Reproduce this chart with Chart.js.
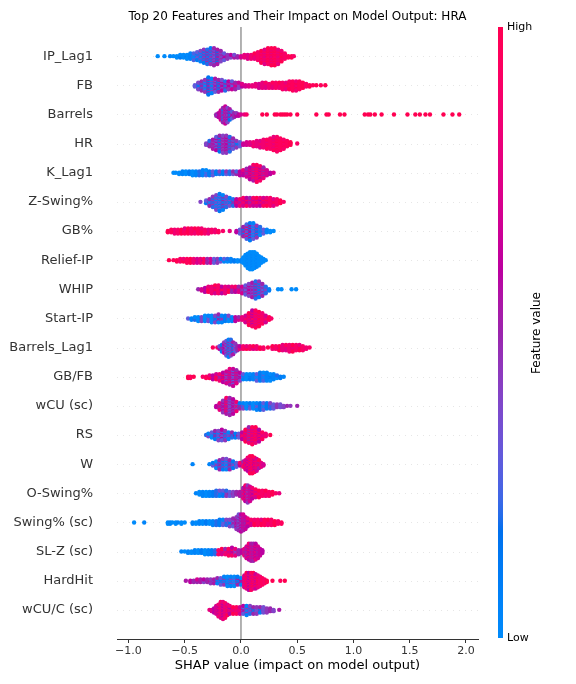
<!DOCTYPE html>
<html>
<head>
<meta charset="utf-8">
<script src="https://cdn.jsdelivr.net/npm/chart.js@4.4.0/dist/chart.umd.min.js"></script>
<style>
  html, body { margin: 0; padding: 0; background: #fff; }
  #wrap { width: 576px; height: 684px; position: relative; }
</style>
</head>
<body>
<div id="wrap"><canvas id="chart"></canvas></div>
<script>
// feature names, top to bottom
const features = ["IP_Lag1", "FB", "Barrels", "HR", "K_Lag1", "Z-Swing%", "GB%", "Relief-IP", "WHIP",
  "Start-IP", "Barrels_Lag1", "GB/FB", "wCU (sc)", "RS", "W", "O-Swing%", "Swing% (sc)", "SL-Z (sc)",
  "HardHit", "wCU/C (sc)"];
const xTicks = [-1, -0.5, 0, 0.5, 1, 1.5, 2];

// each entry: [shap value, number of samples there, feature value(s) 0=low 1=high]
const ipLag1 = [[-0.74,1,0],[-0.68,1,0],[-0.63,1,0.05],[-0.60,1,0],[-0.57,2,0],[-0.54,3,0,0.1],[-0.51,3,0],
  [-0.48,4,0,0.15],[-0.45,5,0.05],[-0.42,6,0,0.25],[-0.39,7,0.1,0.3],[-0.36,9,0.05,0.4],[-0.33,11,0.1,0.45],
  [-0.30,12,0.2,0.5],[-0.27,13,0.1,0.45],[-0.24,14,0.3,0.5],[-0.21,12,0.15,0.55],[-0.18,9,0.4,0.5],
  [-0.15,6,0.3,0.6],[-0.12,4,0.45,0.55],[-0.09,3,0.4,0.6],[-0.06,3,0.35,0.55],[-0.03,2,0.5,0.6],
  [0.00,2,0.45,0.7],[0.03,3,0.8],[0.06,4,0.75,0.95],[0.09,4,0.85],[0.12,5,0.8,1],[0.15,7,0.9],
  [0.18,10,0.85,1],[0.21,12,0.95,0.75],[0.24,13,0.9,1],[0.27,14,1,0.8],[0.30,14,0.9,1],[0.33,12,0.95,0.8],
  [0.36,9,1,0.85],[0.39,5,0.9],[0.42,2,0.95],[0.45,2,1],[0.47,1,0.9]];
const fb = [[-0.41,2,0.3],[-0.38,6,0.1,0.4],[-0.35,8,0.2,0.5],[-0.32,10,0,0.45],[-0.29,14,0.15,0.5],
  [-0.26,12,0.05,0.4],[-0.23,11,0.3,0.55],[-0.20,10,0.1,0.5],[-0.17,9,0.35,0.6],[-0.14,8,0.2,0.55],
  [-0.11,7,0.45,0.6],[-0.08,7,0.3,0.65],[-0.05,6,0.5,0.7],[-0.02,5,0.4,0.65],[0.01,3,0.6,0.75],[0.04,2,0.7],
  [0.07,2,0.75],[0.10,2,0.7,0.8],[0.13,3,0.8],[0.16,4,0.7,0.85],[0.19,5,0.8],[0.22,5,0.75,0.9],[0.25,4,0.85],
  [0.28,5,0.8,0.95],[0.31,5,0.9],[0.34,5,0.85,1],[0.37,6,0.9],[0.40,6,0.95,0.8],[0.43,7,1,0.9],[0.46,8,0.95],
  [0.49,8,1,0.85],[0.52,7,0.95],[0.55,5,1],[0.58,3,0.9],[0.61,2,1],[0.64,1,0.95],[0.67,1,1],[0.71,1,0.95],
  [0.75,1,1]];
const barrels = [[-0.22,2,0.5],[-0.20,4,0.6,0.3],[-0.18,8,0.55,0.7],[-0.16,12,0.5,0.2],[-0.14,14,0.65,0.45],
  [-0.12,12,0.4,0.6],[-0.10,9,0.55,0.15],[-0.08,6,0.6,0.3],[-0.06,4,0.5],[-0.04,3,0.45,0.6],[-0.02,2,0.6],
  [0.00,1,0.7],[0.03,1,0.8],[0.05,1,0.9],[0.19,1,1],[0.23,1,1],[0.30,1,1],[0.32,1,1],[0.35,1,1],[0.37,1,1],
  [0.39,1,1],[0.41,1,1],[0.44,1,1],[0.50,1,1],[0.67,1,1],[0.76,1,1],[0.78,1,1],[0.88,1,1],[0.92,1,1],
  [1.10,1,1],[1.13,1,1],[1.15,1,1],[1.19,1,1],[1.25,1,1],[1.36,1,1],[1.48,1,1],[1.55,1,1],[1.59,1,1],
  [1.64,1,1],[1.68,1,1],[1.80,1,1],[1.88,1,1],[1.94,1,1]];
const hr = [[-0.31,2,0.4],[-0.28,5,0.5,0.2],[-0.25,8,0.45,0.55],[-0.22,11,0.3,0.6],[-0.19,13,0.5,0.15],
  [-0.16,14,0.55,0.4],[-0.13,14,0.45,0.6],[-0.10,12,0.2,0.5],[-0.07,9,0.5,0.3],[-0.04,6,0.1,0.45],
  [-0.01,4,0.05,0.3],[0.02,2,0.2,0.65],[0.05,3,0.7],[0.08,3,0.75],[0.11,4,0.7,0.85],[0.14,5,0.8],
  [0.17,6,0.75,0.9],[0.20,7,0.85],[0.23,8,0.8,0.95],[0.26,9,0.9],[0.29,11,0.95,0.8],[0.32,12,0.9,1],
  [0.35,10,0.95],[0.38,8,0.9,1],[0.41,5,0.95],[0.44,3,1],[0.50,1,0.9]];
const kLag1 = [[-0.60,1,0],[-0.58,1,0],[-0.55,2,0],[-0.52,3,0.05],[-0.49,3,0],[-0.46,3,0.1],[-0.43,4,0],
  [-0.40,4,0.05],[-0.37,4,0,0.2],[-0.34,5,0.05],[-0.31,5,0,0.25],[-0.28,4,0.1],[-0.25,4,0.05,0.3],
  [-0.22,3,0.1],[-0.19,3,0.2,0.4],[-0.16,3,0.1],[-0.13,3,0.3,0.45],[-0.10,3,0.2],[-0.07,3,0.35,0.5],
  [-0.04,3,0.25,0.5],[-0.01,4,0.5,0.6],[0.02,5,0.6,0.8],[0.05,7,0.7,0.5],[0.08,10,0.8,0.6],
  [0.11,13,0.9,0.55],[0.14,14,0.75,0.95],[0.17,12,0.6,0.9],[0.20,9,0.8,0.5],[0.23,5,0.7],[0.26,2,0.6],
  [0.29,1,0.7]];
const zSwing = [[-0.36,1,0.4],[-0.31,3,0.3,0.1],[-0.28,6,0.5,0],[-0.25,9,0.2,0.45],[-0.22,12,0.05,0.4],
  [-0.19,14,0.3,0.1],[-0.16,12,0.5,0.05],[-0.13,9,0.2,0.4],[-0.10,7,0.35,0.1],[-0.07,6,0.5,0.2],
  [-0.04,6,0.6,0.8],[-0.01,6,0.55,0.85],[0.02,7,0.7,0.9],[0.05,7,0.6,0.95],[0.08,7,0.75,0.5],
  [0.11,7,0.9,0.65],[0.14,7,0.7,1],[0.17,7,0.85,0.6],[0.20,7,0.95,0.7],[0.23,7,0.8,1],[0.26,7,0.9],
  [0.29,6,1,0.75],[0.32,5,0.9],[0.35,3,1],[0.38,1,0.9]];
const gbPct = [[-0.65,2,1],[-0.62,3,0.95],[-0.59,4,1,0.85],[-0.56,4,0.9],[-0.53,4,1],[-0.50,5,0.95,0.8],
  [-0.47,5,1],[-0.44,5,0.9],[-0.41,5,1,0.85],[-0.38,5,0.95],[-0.35,5,0.85,1],[-0.32,4,0.9],[-0.29,4,1,0.8],
  [-0.26,3,0.9],[-0.23,3,0.85],[-0.20,2,0.95],[-0.16,1,0.9],[-0.10,1,0.8],[-0.04,2,0.6],[-0.01,4,0.3,0.7],
  [0.02,8,0.1,0.5],[0.05,12,0.25,0.8],[0.08,14,0.1,0.6],[0.11,13,0.3,0.05],[0.14,10,0.45,0.15],
  [0.17,7,0.2,0],[0.20,4,0.1,0.3],[0.23,3,0.05],[0.26,2,0],[0.29,1,0]];
const reliefIp = [[-0.64,1,1],[-0.60,1,0.95],[-0.57,2,1],[-0.54,3,0.9],[-0.51,3,1,0.85],[-0.48,4,0.95],
  [-0.45,4,0.9,1],[-0.42,4,0.85],[-0.39,4,1,0.7],[-0.36,4,0.8],[-0.33,4,0.6,0.95],[-0.30,4,0.5,0.8],
  [-0.27,4,0.4,0.7],[-0.24,4,0.3,0.55],[-0.21,4,0.15,0.45],[-0.18,3,0.1,0.35],[-0.15,3,0.05,0.3],
  [-0.12,3,0.2,0],[-0.09,3,0.05],[-0.06,2,0.1],[-0.03,2,0],[0.00,2,0.05],[0.02,5,0],[0.04,9,0],
  [0.06,12,0.05,0],[0.08,14,0],[0.10,14,0,0.05],[0.12,13,0],[0.14,11,0.05,0],[0.16,8,0],[0.18,5,0],
  [0.20,3,0],[0.22,1,0]];
const whip = [[-0.38,1,0.5],[-0.35,2,0.7],[-0.32,4,0.9,0.6],[-0.29,5,1,0.8],[-0.26,6,0.85],[-0.23,7,1,0.7],
  [-0.20,7,0.9],[-0.17,6,0.95,0.6],[-0.14,6,0.8],[-0.11,5,1,0.7],[-0.08,5,0.85,0.5],[-0.05,5,0.6,0.9],
  [-0.02,5,0.5,0.75],[0.01,6,0.45,0.7],[0.04,8,0.5,0.3],[0.07,10,0.6,0.4],[0.10,12,0.35,0.55],
  [0.13,14,0.5,0.2],[0.16,13,0.45,0.1],[0.19,10,0.3,0.5],[0.22,6,0.2,0.4],[0.25,2,0.1],[0.33,1,0],
  [0.36,1,0],[0.45,1,0],[0.49,1,0]];
const startIp = [[-0.47,1,0.3],[-0.44,2,0.05],[-0.41,3,0.2,0],[-0.38,4,0],[-0.35,4,0.1,0.4],[-0.32,5,0],
  [-0.29,5,0.05,0.35],[-0.26,6,0],[-0.23,6,0.4,0.1],[-0.20,7,0.5,0],[-0.17,6,0.05,0.45],[-0.14,5,0.1],
  [-0.11,5,0.4,0],[-0.08,4,0.05,0.5],[-0.05,4,0.1,0.6],[-0.02,3,0.5,0.7],[0.01,3,0.8],[0.04,6,0.9,0.7],
  [0.07,10,1,0.8],[0.10,13,0.9,0.6],[0.13,14,0.95,0.75],[0.16,12,1,0.8],[0.19,9,0.85,0.95],
  [0.22,6,0.9,0.7],[0.25,3,1],[0.27,1,0.9]];
const barrelsLag1 = [[-0.25,1,0.95],[-0.21,1,0.9],[-0.19,3,0.6,0.3],[-0.17,6,0.5,0.1],[-0.15,9,0.45,0.6],
  [-0.13,12,0.3,0.55],[-0.11,14,0.05,0.5],[-0.09,13,0.4,0.2],[-0.07,10,0.55,0.1],[-0.05,7,0.45,0.3],
  [-0.03,4,0.5],[-0.01,3,0.6,0.8],[0.02,3,0.9],[0.05,3,0.8,1],[0.08,3,0.9],[0.11,3,1,0.75],[0.14,3,0.85],
  [0.17,2,1],[0.20,2,0.9],[0.24,1,1],[0.28,3,0.85,1],[0.31,3,0.9],[0.34,4,0.7,1],[0.37,5,0.8],
  [0.40,5,0.95,0.75],[0.43,6,0.85],[0.46,6,1,0.8],[0.49,5,0.9],[0.52,5,0.8,1],[0.55,4,0.9],[0.58,2,0.85],
  [0.61,1,0.9]];
const gbFb = [[-0.47,2,1],[-0.45,2,0.95],[-0.42,1,1],[-0.34,1,0.9],[-0.31,2,0.95,0.3],[-0.28,3,0.8,1],
  [-0.25,4,0.9,0.6],[-0.22,5,1,0.7],[-0.19,6,0.85,0.5],[-0.16,8,0.6,0.95],[-0.13,10,0.7,0.4],
  [-0.10,13,0.55,0.8],[-0.07,14,0.65,0.3],[-0.04,11,0.5,0.75],[-0.01,7,0.4,0.6],[0.02,5,0.05,0.3],
  [0.05,5,0],[0.08,5,0.1,0],[0.11,5,0.05],[0.14,6,0,0.3],[0.17,7,0.1],[0.20,7,0,0.25],[0.23,7,0.05],
  [0.26,6,0.1,0],[0.29,5,0.05],[0.32,3,0.2,0],[0.35,2,0.1],[0.38,1,0.05]];
const wcu = [[-0.22,2,0.6],[-0.19,6,0.5,0.8],[-0.16,10,0.45,0.6],[-0.13,13,0.55,0.9],[-0.10,14,0.5,0.35],
  [-0.07,12,0.6,0.45],[-0.04,8,0.4,0.85],[-0.01,5,0.5,0.1],[0.02,5,0.05,0.4],[0.05,5,0],[0.08,5,0.1,0.3],
  [0.11,5,0],[0.14,6,0.05,0.35],[0.17,6,0.15],[0.20,6,0.3,0],[0.23,5,0.1],[0.26,5,0.4,0.2],[0.29,4,0.3],
  [0.32,3,0.45],[0.35,3,0.35],[0.38,2,0.4],[0.41,1,0.5],[0.44,1,0.45],[0.50,1,0.5]];
const rs = [[-0.31,1,0.2],[-0.29,3,0.05,0.4],[-0.26,5,0.3,0],[-0.23,7,0.5,0.1],[-0.20,8,0.05,0.4],
  [-0.17,9,0.3,0.6],[-0.14,8,0.1,0.45],[-0.11,6,0.4,0.05],[-0.08,5,0.5,0.2],[-0.05,4,0.1,0.6],
  [-0.02,4,0.8,0.3],[0.01,6,0.9,0.6],[0.04,10,1,0.7],[0.07,13,0.85,0.5],[0.10,14,0.95,0.7],
  [0.13,13,0.8,1],[0.16,10,0.6,0.9],[0.19,6,0.75,0.95],[0.22,3,0.85],[0.26,1,1]];
const w = [[-0.43,1,0.05],[-0.28,1,0.05],[-0.25,3,0.3,0.1],[-0.22,6,0.45,0],[-0.19,8,0.2,0.5],
  [-0.16,9,0.1,0.45],[-0.13,9,0.35,0.05],[-0.10,8,0.5,0.2],[-0.07,6,0.1,0.4],[-0.04,4,0.3,0.05],
  [-0.01,3,0.6,0.9],[0.02,5,0.9,0.5],[0.04,8,1,0.7],[0.06,11,0.85,0.6],[0.08,14,0.95,0.7],[0.10,14,0.8,1],
  [0.12,12,0.6,0.95],[0.14,10,0.9,0.7],[0.16,7,0.55,1],[0.18,4,0.8],[0.20,2,0.7]];
const oSwing = [[-0.40,1,0.05],[-0.37,3,0],[-0.34,4,0.05],[-0.31,4,0,0.1],[-0.28,4,0.05],[-0.25,4,0.1,0],
  [-0.22,5,0.2],[-0.19,5,0.05,0.35],[-0.16,5,0.3,0.1],[-0.13,5,0.45,0.2],[-0.10,4,0.5,0.3],
  [-0.07,4,0.4,0.55],[-0.04,3,0.5],[-0.01,4,0.55,0.7],[0.02,9,0.5,0.8],[0.04,13,0.6,0.9],
  [0.06,14,0.45,0.75],[0.08,12,0.7,0.55],[0.10,9,0.85,0.6],[0.13,7,0.95,0.7],[0.16,6,1,0.8],[0.19,5,0.9],
  [0.22,5,1,0.85],[0.25,4,0.9],[0.28,3,1],[0.31,1,0.9],[0.34,1,0.8]];
const swingSc = [[-0.95,1,0],[-0.86,1,0.05],[-0.65,2,0],[-0.63,2,0.05],[-0.61,1,0],[-0.58,2,0],[-0.56,1,0.05],
  [-0.53,2,0],[-0.50,1,0],[-0.43,2,0.05],[-0.40,2,0],[-0.37,3,0.05],[-0.34,3,0],[-0.31,3,0.1],[-0.28,3,0],
  [-0.25,4,0.05],[-0.22,4,0,0.2],[-0.19,5,0.1],[-0.16,5,0.05,0.3],[-0.13,5,0.2,0.4],[-0.10,6,0.4,0.1],
  [-0.07,7,0.5,0.3],[-0.04,10,0.45,0.6],[-0.02,13,0.5,0.35],[0.00,14,0.6,0.45],[0.02,13,0.55,0.7],
  [0.04,10,0.65,0.5],[0.06,7,0.8,0.6],[0.09,5,0.9,0.7],[0.12,5,1,0.85],[0.15,5,0.9],[0.18,5,1,0.8],
  [0.21,5,0.95],[0.24,5,0.85,1],[0.27,5,0.9],[0.30,4,1],[0.33,3,0.9],[0.36,2,0.95]];
const slZ = [[-0.53,1,0.05],[-0.50,1,0],[-0.47,2,0.05],[-0.44,2,0],[-0.41,3,0.05],[-0.38,3,0],[-0.35,3,0.1],
  [-0.32,4,0],[-0.29,4,0.05],[-0.26,4,0.1,0],[-0.23,4,0.2],[-0.20,4,0.9,0.3],[-0.17,5,1,0.7],
  [-0.14,5,0.85,0.5],[-0.11,6,0.95,0.7],[-0.08,7,0.6,0.9],[-0.05,6,0.8,0.4],[-0.02,4,0.5,0.7],[0.01,3,0.6],
  [0.03,6,0.55,0.8],[0.05,10,0.7,0.5],[0.07,13,0.6,0.85],[0.09,14,0.55,0.75],[0.11,14,0.7,0.5],
  [0.13,13,0.6,0.8],[0.15,10,0.55,0.7],[0.17,6,0.65],[0.19,3,0.6]];
const hardHit = [[-0.49,1,0.55],[-0.45,2,0.6],[-0.42,2,0.5],[-0.39,3,0.7,0.5],[-0.36,3,0.55],[-0.33,3,0.6,0.4],
  [-0.30,3,0.5],[-0.27,4,0.45,0.7],[-0.24,4,0.3,0.55],[-0.21,5,0.05,0.5],[-0.18,6,0.3,0.1],
  [-0.15,7,0.05,0.45],[-0.12,8,0.2,0],[-0.09,8,0.05,0.4],[-0.06,8,0.3,0],[-0.03,7,0.1,0.5],
  [0.00,6,0.05,0.6],[0.03,10,0.9,0.7],[0.05,13,1,0.8],[0.07,14,0.85,0.6],[0.09,14,0.95,0.7],
  [0.11,13,0.8,1],[0.13,12,0.9,0.65],[0.15,10,1,0.8],[0.17,8,0.85],[0.19,6,0.95],[0.21,4,0.9],[0.23,2,1],
  [0.28,1,1],[0.35,1,0.95],[0.39,1,1]];
const wcuC = [[-0.28,1,0.8],[-0.26,2,0.75],[-0.24,4,0.8,0.6],[-0.22,7,0.7],[-0.20,10,0.85,0.6],
  [-0.18,13,0.75,0.9],[-0.16,14,0.8,0.6],[-0.14,12,0.9,0.7],[-0.12,9,0.75,1],[-0.10,7,0.85,0.6],
  [-0.07,6,1,0.75],[-0.04,6,0.8,0.95],[-0.01,6,0.7,0.9],[0.02,7,0.6,0.3],[0.05,8,0.45,0.05],
  [0.08,7,0.4,0.2],[0.11,6,0.5,0.1],[0.14,6,0.3,0.45],[0.17,5,0.5,0.1],[0.20,5,0.35],[0.23,4,0.45],
  [0.26,3,0.5],[0.29,2,0.4],[0.34,1,0.55]];

const rows = [ipLag1, fb, barrels, hr, kLag1, zSwing, gbPct, reliefIp, whip, startIp, barrelsLag1, gbFb,
  wcu, rs, w, oSwing, swingSc, slZ, hardHit, wcuC];

const FONT = "DejaVu Sans";

// shap's red_blue map: blue -> purple -> red, interpolated in LCH
function redBlue(t) {
  const L = t < 0.5 ? 54 + (40 - 54) * (t / 0.5) : 40 + (54 - 40) * ((t - 0.5) / 0.5);
  const C = 70 + 20 * t;
  const h = 4.6588 + (0.35470565 + 2 * Math.PI - 4.6588) * t;
  const a = C * Math.cos(h), b = C * Math.sin(h);
  const fy = (L + 16) / 116, fx = fy + a / 500, fz = fy - b / 200;
  const inv = v => (v > 6 / 29 ? v * v * v : 3 * (6 / 29) * (6 / 29) * (v - 4 / 29));
  const X = 0.95047 * inv(fx), Y = inv(fy), Z = 1.08883 * inv(fz);
  const lin = [
    3.2406 * X - 1.5372 * Y - 0.4986 * Z,
    -0.9689 * X + 1.8758 * Y + 0.0415 * Z,
    0.0557 * X - 0.2040 * Y + 1.0570 * Z,
  ];
  const rgb = lin.map(v => {
    const s = v <= 0.0031308 ? 12.92 * v : 1.055 * Math.pow(v, 1 / 2.4) - 0.055;
    return Math.round(Math.min(1, Math.max(0, s)) * 255);
  });
  return `rgb(${rgb[0]},${rgb[1]},${rgb[2]})`;
}

// beeswarm layout like shap: stack samples of the same bin alternately up and down
const points = [];
const colors = [];
rows.forEach((groups, row) => {
  let maxPos = 0;
  groups.forEach(g => { maxPos = Math.max(maxPos, Math.ceil((g[1] - 1) / 2)); });
  const unit = 0.36 / (maxPos + 1);
  groups.forEach((g, bin) => {
    const [x, n, ...levels] = g;
    for (let k = 0; k < n; k++) {
      const ring = Math.ceil(k / 2);
      const side = k % 2;
      points.push({ x: x, y: row + ring * (side ? 1 : -1) * unit });
      colors.push(redBlue(levels[(ring + side + bin) % levels.length]));
    }
  });
});

const decorations = {
  id: "decorations",
  beforeDatasetsDraw(chart) {
    const { ctx, chartArea, scales } = chart;
    ctx.save();
    ctx.strokeStyle = "#cccccc";
    ctx.lineWidth = 0.5;
    ctx.setLineDash([1, 5]);
    features.forEach((_, i) => {
      const y = Math.round(scales.y.getPixelForValue(i)) + 0.5;
      ctx.beginPath();
      ctx.moveTo(chartArea.left, y);
      ctx.lineTo(chartArea.right, y);
      ctx.stroke();
    });
    ctx.setLineDash([]);
    const x0 = scales.x.getPixelForValue(0);
    ctx.strokeStyle = "#999999";
    ctx.lineWidth = 1.5;
    ctx.beginPath();
    ctx.moveTo(x0, chartArea.top);
    ctx.lineTo(x0, chartArea.bottom);
    ctx.stroke();
    ctx.restore();
  },
  afterDraw(chart) {
    const { ctx, chartArea } = chart;
    const cx = (chartArea.left + chartArea.right) / 2;
    ctx.save();
    ctx.fillStyle = "#000";
    ctx.textAlign = "center";
    ctx.textBaseline = "middle";
    ctx.font = `12px "${FONT}"`;
    ctx.fillText("Top 20 Features and Their Impact on Model Output: HRA", cx, 17);
    ctx.font = `13px "${FONT}"`;
    ctx.fillText("SHAP value (impact on model output)", cx, 666);

    // colour bar
    const top = 27, bottom = 638, left = 498, width = 5;
    const grad = ctx.createLinearGradient(0, bottom, 0, top);
    for (let i = 0; i <= 40; i++) grad.addColorStop(i / 40, redBlue(i / 40));
    ctx.fillStyle = grad;
    ctx.fillRect(left, top, width, bottom - top);
    ctx.fillStyle = "#000";
    ctx.textAlign = "left";
    ctx.font = `11px "${FONT}"`;
    ctx.fillText("High", 507, top);
    ctx.fillText("Low", 507, bottom);
    ctx.translate(537, 333);
    ctx.rotate(-Math.PI / 2);
    ctx.textAlign = "center";
    ctx.font = `12px "${FONT}"`;
    ctx.fillText("Feature value", 0, 0);
    ctx.restore();
  },
};

new Chart("chart", {
  type: "scatter",
  data: {
    datasets: [{
      data: points,
      pointBackgroundColor: colors,
      pointBorderWidth: 0,
      pointRadius: 2.2,
      pointHoverRadius: 2.2,
    }],
  },
  options: {
    responsive: true,
    maintainAspectRatio: false,
    animation: false,
    events: [],
    layout: { padding: { top: 27, right: 98, left: 0, bottom: 0 } },
    plugins: { legend: { display: false }, tooltip: { enabled: false } },
    scales: {
      x: {
        type: "linear",
        min: -1.102,
        max: 2.107,
        afterBuildTicks: scale => { scale.ticks = xTicks.map(v => ({ value: v })); },
        afterFit: scale => {
          scale.height = 45;
          scale.paddingLeft = 0;
          scale.paddingRight = 0;
        },
        ticks: {
          autoSkip: false,
          maxRotation: 0,
          padding: 2,
          color: "#333333",
          font: { family: FONT, size: 11 },
          callback: v => (v < 0 ? "\u2212" : "") + Math.abs(v).toFixed(1),
        },
        grid: { drawOnChartArea: false, drawTicks: true, tickLength: 4, color: "#333333" },
        border: { display: true, color: "#333333", width: 1 },
      },
      y: {
        type: "linear",
        reverse: true,
        min: -1,
        max: 20,
        afterBuildTicks: scale => { scale.ticks = features.map((_, i) => ({ value: i })); },
        afterFit: scale => {
          scale.width = 117;
          scale.paddingTop = 0;
          scale.paddingBottom = 0;
        },
        ticks: {
          autoSkip: false,
          padding: 24,
          color: "#333333",
          font: { family: FONT, size: 13 },
          callback: v => features[v],
        },
        grid: { display: false, drawTicks: false },
        border: { display: false },
      },
    },
  },
  plugins: [decorations],
});
</script>
</body>
</html>
